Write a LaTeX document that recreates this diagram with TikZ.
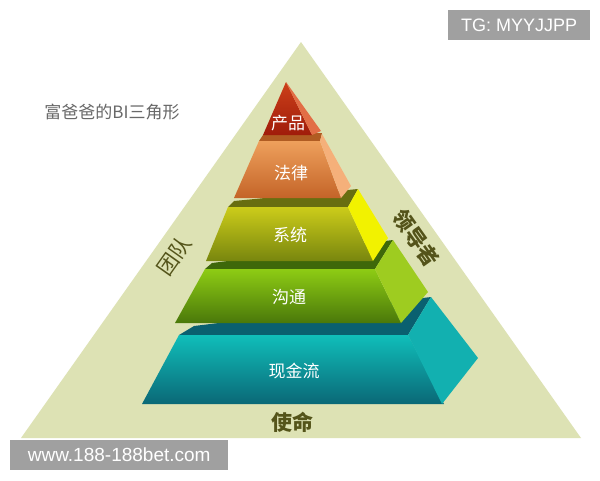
\documentclass[tikz,border=0pt]{standalone}
\usepackage{fontspec}
\setmainfont{Liberation Sans}
\newfontfamily\cjk{Noto Sans CJK SC}

\definecolor{tribg}{RGB}{221,226,180}
\definecolor{olivetext}{RGB}{84,84,26}
\definecolor{titlegray}{RGB}{104,104,104}
\definecolor{markgray}{RGB}{160,160,160}
% layer colours: strip, top, bottom, side
\definecolor{cashstrip}{RGB}{10,96,112}
\definecolor{cashtop}{RGB}{16,190,186}
\definecolor{cashbot}{RGB}{10,104,118}
\definecolor{cashside}{RGB}{18,176,176}
\definecolor{talkstrip}{RGB}{62,104,10}
\definecolor{talktop}{RGB}{142,204,20}
\definecolor{talkbot}{RGB}{74,120,10}
\definecolor{talkside}{RGB}{158,204,32}
\definecolor{sysstrip}{RGB}{104,110,16}
\definecolor{systop}{RGB}{204,204,26}
\definecolor{sysbot}{RGB}{120,134,14}
\definecolor{sysside}{RGB}{242,242,0}
\definecolor{lawstrip}{RGB}{176,92,34}
\definecolor{lawtop}{RGB}{238,160,92}
\definecolor{lawbot}{RGB}{196,100,40}
\definecolor{lawside}{RGB}{245,176,122}
\definecolor{prodtop}{RGB}{204,64,26}
\definecolor{prodbot}{RGB}{160,28,10}
\definecolor{prodside}{RGB}{226,110,70}

\begin{document}
\begin{tikzpicture}[x=1pt, y=-1pt,
    layertext/.style={text=white, font=\cjk\fontsize{17}{17}\selectfont},
    edgetext/.style={text=olivetext, font=\cjk\bfseries\fontsize{21}{21}\selectfont},
    watermark/.style={fill=markgray, text=white, inner sep=0pt,
                      font=\fontsize{18}{18}\selectfont, minimum height=30pt},
    front/.style={top color=#1top, bottom color=#1bot}
]
    \useasboundingbox (0,0) rectangle (600,480);
    \fill[white] (0,0) rectangle (600,480);

    % === Background triangle ===
    \fill[tribg] (301,42) -- (581,438) -- (21,438) -- cycle;

    % === Layer 1: cash flow ===
    \fill[cashstrip] (179,335) -- (194,326) -- (431,297) -- (408,335) -- cycle;
    \shade[front=cash] (179,335) -- (408,335) -- (444,404) -- (142,404) -- cycle;
    \fill[cashside] (408,335) -- (431,297) -- (478,358) -- (442,404) -- cycle;

    % === Layer 2: communication ===
    \fill[talkstrip] (205,269) -- (212,263) -- (393,240) -- (375,269) -- cycle;
    \shade[front=talk] (205,269) -- (375,269) -- (401,323) -- (175,323) -- cycle;
    \fill[talkside] (375,269) -- (393,240) -- (428,292) -- (401,323) -- cycle;

    % === Layer 3: system ===
    \fill[sysstrip] (228,207) -- (234,201) -- (358,189) -- (348,207) -- cycle;
    \shade[front=sys] (228,207) -- (348,207) -- (373,261) -- (206,261) -- cycle;
    \fill[sysside] (348,207) -- (358,189) -- (388,238) -- (373,261) -- cycle;

    % === Layer 4: law ===
    \fill[lawstrip] (259,141) -- (263,135) -- (322,133) -- (320,141) -- cycle;
    \shade[front=law] (259,141) -- (320,141) -- (341,198) -- (234,198) -- cycle;
    \fill[lawside] (320,141) -- (322,134) -- (351,186) -- (341,198) -- cycle;

    % === Layer 5: product ===
    \shade[front=prod] (286,82) -- (312,135) -- (263,135) -- cycle;
    \fill[prodside] (286,82) -- (321,131) -- (312,135) -- cycle;

    % === Layer labels ===
    \node[layertext] (product) at (288,123) {产品};
    \node[layertext] (law) at (291,173) {法律};
    \node[layertext] (system) at (290,235) {系统};
    \node[layertext] (talk) at (289,297) {沟通};
    \node[layertext] (cash) at (294,371) {现金流};

    % === Edge labels ===
    \node[edgetext, font=\cjk\fontsize{21}{21}\selectfont, rotate=54.7] (team) at (174,256) {团队};
    \node[edgetext, rotate=-54.7] (leader) at (416,238) {领导者};
    \node[edgetext] (mission) at (292,422) {使命};

    % === Title and marks ===
    \node[text=titlegray, font=\cjk\fontsize{17}{17}\selectfont] (title) at (112,112) {富爸爸的BI三角形};
    \node[watermark, minimum width=142pt, anchor=north west] (tg) at (448,10) {TG: MYYJJPP};
    \node[watermark, minimum width=218pt, anchor=north west, font=\fontsize{19}{19}\selectfont] (site) at (10,440) {www.188-188bet.com};

\end{tikzpicture}
\end{document}
